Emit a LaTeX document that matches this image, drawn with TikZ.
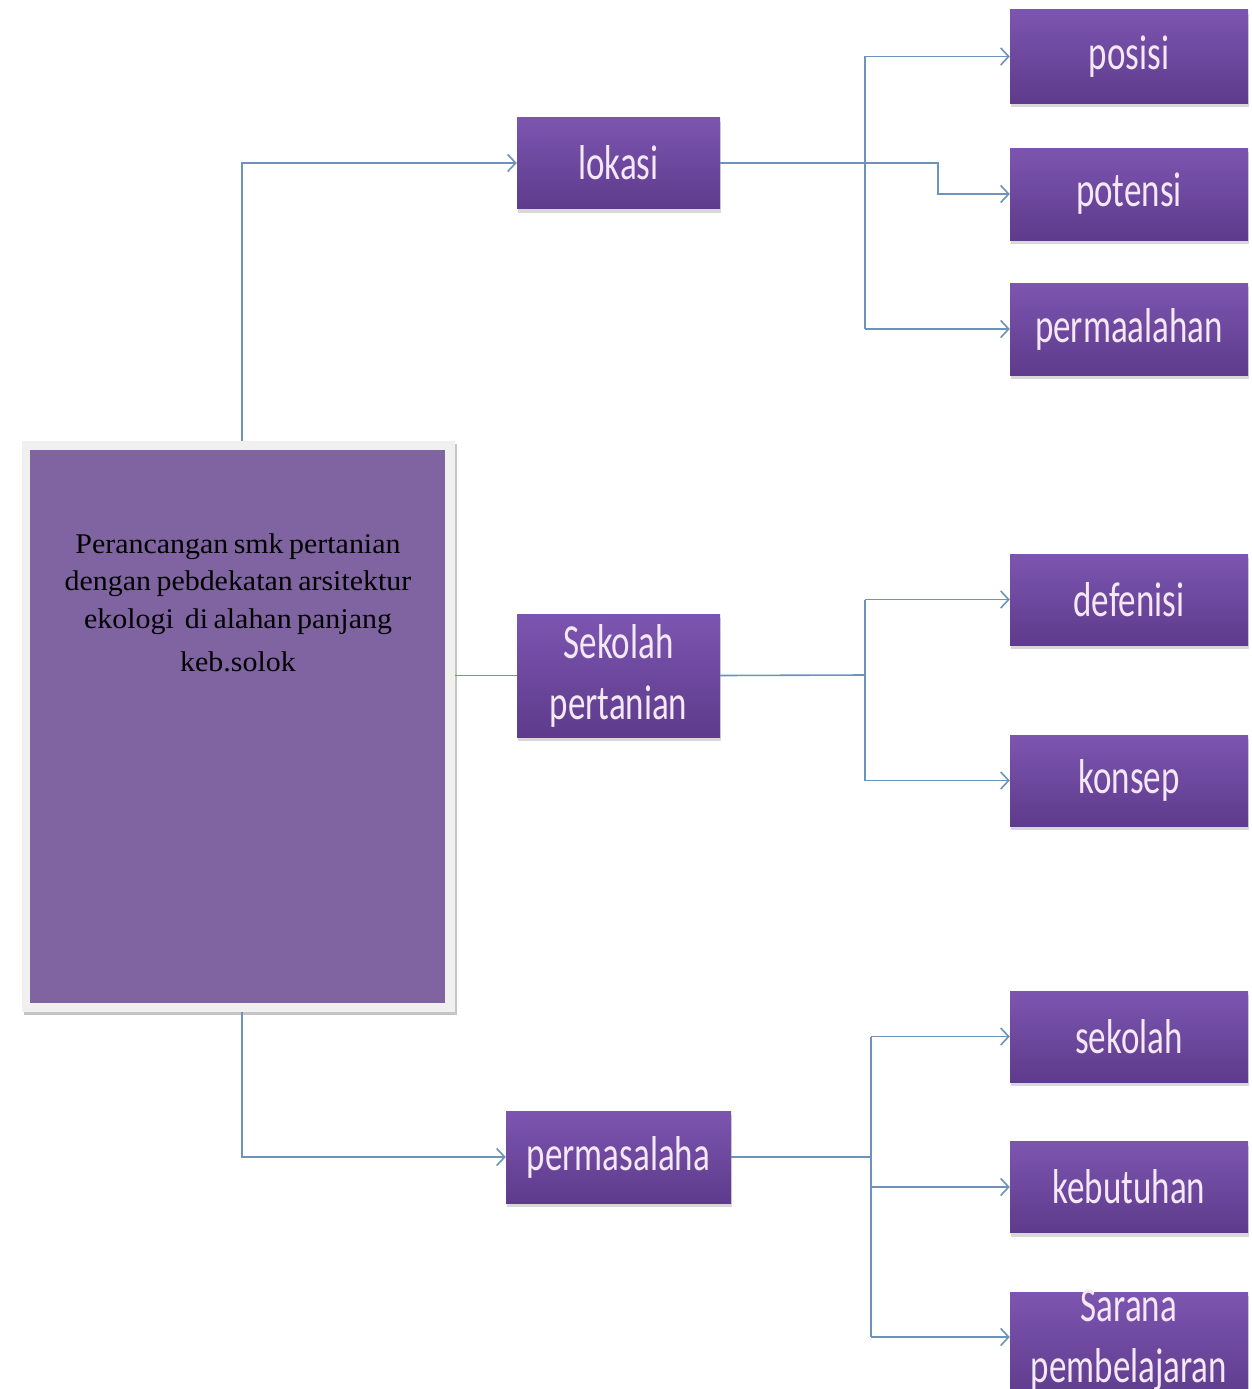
\documentclass[tikz,border=0pt]{standalone}
\usepackage{fontspec}
\usepackage{graphicx}
\setmainfont{Liberation Serif}
\newfontfamily\mainf[FakeStretch=1.05]{Liberation Serif}
\newfontfamily\boxfont{Carlito}
\usetikzlibrary{arrows.meta,shadows}
\definecolor{boxtop}{HTML}{7C55B0}
\definecolor{boxbot}{HTML}{5E3B8C}
\definecolor{lbl}{HTML}{F4E8F6}
\definecolor{mainfill}{HTML}{8064A2}
\definecolor{frame}{HTML}{F0F0F0}
\definecolor{conn}{HTML}{6E93BA}
\newcommand\vlbl[1]{\scalebox{1}[1.4]{\fontsize{35}{39}\selectfont #1}}
\newcommand\vlbltwo[2]{\scalebox{1}[1.4]{\fontsize{35}{39}\selectfont\begin{tabular}{@{}c@{}}#1\\[4pt]#2\end{tabular}}}
\tikzset{
  pbox/.style={rectangle, inner sep=0pt, minimum width=203pt, minimum height=91pt,
    top color=boxtop, bottom color=boxbot, text=lbl, font=\boxfont,
    drop shadow={opacity=0.3, shadow xshift=1pt, shadow yshift=-4pt}},
  rbox/.style={pbox, minimum width=238pt},
  conline/.style={draw=conn, line width=1.6pt},
  arr/.style={conline, -{Straight Barb[length=8pt,width=17pt,line width=1.6pt]}}
}
\begin{document}
\begin{tikzpicture}[x=1pt,y=-1pt]
\useasboundingbox (0,0) rectangle (1252,1389);
\clip (0,0) rectangle (1252,1389);
\fill[white] (0,0) rectangle (1252,1389);
% main box
\node[rectangle, fill=frame, minimum width=433pt, minimum height=571pt, inner sep=0pt,
  drop shadow={opacity=0.45, shadow xshift=2pt, shadow yshift=-3pt}] (mainf) at (238.5,726.5) {};
\node[rectangle, fill=mainfill, minimum width=415pt, minimum height=553pt, inner sep=0pt] (main) at (237.5,726.5) {};
\node[anchor=north, text width=380pt, align=center,
  font=\mainf\fontsize{28.5}{37.5}\selectfont] (maintext) at (238,530)
  {\spaceskip=5.5pt\relax Perancangan smk pertanian\\ dengan pebdekatan arsitektur\\ ekologi\hspace{11pt}di alahan panjang\\[6pt] keb.solok};
% middle nodes
\node[pbox] (lok) at (618.5,163) {\vlbl{lokasi}};
\node[pbox, minimum height=123pt] (sek) at (618.5,675.5) {};
\node[text=lbl, font=\boxfont] (sekt) at (618.5,678) {\vlbltwo{Sekolah}{pertanian}};
\node[pbox, minimum width=225pt, minimum height=92pt] (perm) at (618.5,1157) {\vlbl{permasalaha}};
% right nodes
\node[rbox, minimum height=93pt] (pos) at (1129,56.5) {\vlbl{posisi}};
\node[rbox, minimum height=92pt] (pot) at (1129,194) {\vlbl{potensi}};
\node[rbox, minimum height=92pt] (pml) at (1129,329) {\vlbl{permaalahan}};
\node[rbox] (def) at (1129,599.5) {\vlbl{defenisi}};
\node[rbox] (kon) at (1129,780.5) {\vlbl{konsep}};
\node[rbox] (skl) at (1129,1036.5) {\vlbl{sekolah}};
\node[rbox] (keb) at (1129,1187) {\vlbl{kebutuhan}};
\node[rbox, minimum height=110pt] (sar) at (1129,1347) {};
\node[text=lbl, font=\boxfont] (sart) at (1129,1341) {\vlbltwo{Sarana}{pembelajaran}};
% coordinates
\coordinate (t1) at (865,163);
\coordinate (t2) at (865,675);
\coordinate (t3) at (871,1157);
% connectors from main
\draw[arr] (mainf.north -| 242,0) |- (lok.west);
\draw[conline] (mainf.east |- sek.west) -- (sek.west);
\draw[arr] (mainf.south -| 242,0) |- (perm.west);
% lokasi group
\draw[conline] (lok.east) -- (t1);
\draw[conline] (t1 |- pos.west) -- (t1 |- pml.west);
\draw[arr] (t1 |- pos.west) -- (pos.west);
\draw[arr] (t1 |- pml.west) -- (pml.west);
\draw[arr] (t1) -- (938,163) |- (pot.west);
% sekolah group
\draw[conline] (sek.east) -- (t2);
\draw[conline] (t2 |- def.west) -- (t2 |- kon.west);
\draw[arr] (t2 |- def.west) -- (def.west);
\draw[arr] (t2 |- kon.west) -- (kon.west);
% permasalaha group
\draw[conline] (perm.east) -- (t3);
\draw[conline] (t3 |- skl.west) -- (871,1337);
\draw[arr] (t3 |- skl.west) -- (skl.west);
\draw[arr] (t3 |- keb.west) -- (keb.west);
\draw[arr] (871,1337) -- (sar.west |- 0,1337);
\end{tikzpicture}
\end{document}
